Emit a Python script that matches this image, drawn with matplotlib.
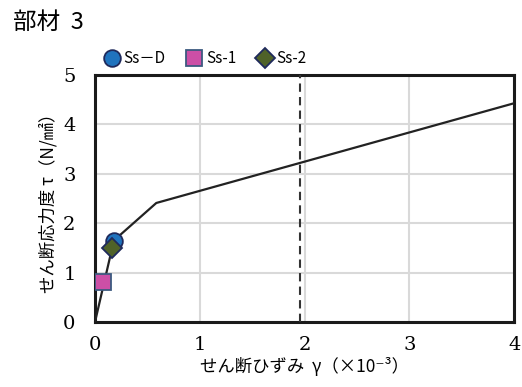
import matplotlib
matplotlib.use("Agg")
import matplotlib.pyplot as plt

# 骨格曲線
curve_x = [0.0, 0.18, 0.585, 4.0]
curve_y = [0.0, 1.65, 2.41, 4.43]

# 各地震動の応答点
labels = ["Ss－D", "Ss-1", "Ss-2"]
pt_x = [0.18, 0.08, 0.16]
pt_y = [1.63, 0.80, 1.50]
markers = ["o", "s", "D"]
faces = ["#1F73BE", "#CC4FA6", "#4F6228"]
edges = ["#1F2A5C", "#3D5A80", "#1F2A5C"]
sizes = [12, 11, 10]

limit_x = 1.96  # 破線

jp = ["Noto Sans CJK JP", "DejaVu Sans"]
num = "DejaVu Serif"

fig = plt.figure(figsize=(5.22, 3.87), dpi=100)
ax = fig.add_axes([0.182, 0.168, 0.803, 0.638])

ax.grid(True, color="#D9D9D9", linewidth=1.5)
ax.set_axisbelow(True)

ax.plot(curve_x, curve_y, color="#222222", linewidth=1.6, zorder=3)
ax.axvline(limit_x, color="#333333", linewidth=1.5, linestyle=(0, (4, 2.5)), zorder=3)

for i in range(len(labels)):
    ax.plot(pt_x[i], pt_y[i], marker=markers[i], markersize=sizes[i],
            markerfacecolor=faces[i], markeredgecolor=edges[i],
            markeredgewidth=1.3, linestyle="none", label=labels[i], zorder=4)

ax.set_xlim(0, 4)
ax.set_ylim(0, 5)
ax.set_xticks([0, 1, 2, 3, 4])
ax.set_yticks([0, 1, 2, 3, 4, 5])
ax.tick_params(length=0, labelsize=14)
ax.tick_params(axis="y", pad=14)
ax.tick_params(axis="x", pad=10)
for t in ax.get_xticklabels() + ax.get_yticklabels():
    t.set_fontfamily(num)

for s in ax.spines.values():
    s.set_linewidth(2.2)
    s.set_color("#1a1a1a")

ax.set_xlabel("せん断ひずみ  γ（×10⁻³）", fontsize=12.5, family=jp, labelpad=2)
ax.set_ylabel("せん断応力度 τ（N/㎟）", fontsize=12.5, family=jp, labelpad=4)

ax.legend(loc="lower left", bbox_to_anchor=(0.0, 1.0), ncol=3, frameon=False,
          prop={"family": jp, "size": 11}, handletextpad=0.15,
          columnspacing=1.3, borderaxespad=0.1, handlelength=1.2)

fig.text(0.025, 0.943, "部材  3", fontsize=17, family=jp, va="center")

fig.savefig("out.png", dpi=100)
